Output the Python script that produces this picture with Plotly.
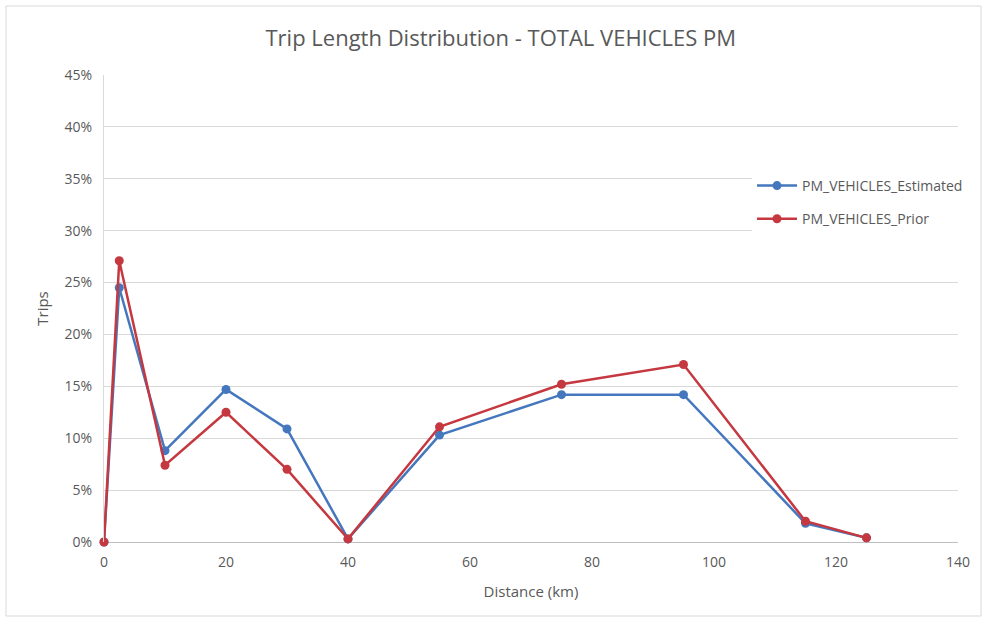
import plotly.graph_objects as go

# Trip length distribution, PM peak, total vehicles
distance_km = [0, 2.5, 10, 20, 30, 40, 55, 75, 95, 115, 125]
estimated = [0.000, 0.245, 0.088, 0.147, 0.109, 0.003, 0.103, 0.142, 0.142, 0.018, 0.004]
prior = [0.000, 0.271, 0.074, 0.125, 0.070, 0.003, 0.111, 0.152, 0.171, 0.020, 0.004]

x_ticks = [0, 20, 40, 60, 80, 100, 120, 140]
y_ticks = [0, 0.05, 0.10, 0.15, 0.20, 0.25, 0.30, 0.35, 0.40, 0.45]

BLUE = "#4477BD"
RED = "#C5383F"
TEXT = "#595959"
FONT = "Open Sans"

fig = go.Figure()
fig.add_trace(go.Scatter(
    x=distance_km, y=estimated, name="PM_VEHICLES_Estimated",
    legendgroup="est", mode="lines+markers", cliponaxis=False,
    line=dict(color=BLUE, width=2.5),
    marker=dict(color=BLUE, size=9),
))
fig.add_trace(go.Scatter(
    x=distance_km, y=prior, name="PM_VEHICLES_Prior",
    legendgroup="prior", mode="lines+markers", cliponaxis=False,
    line=dict(color=RED, width=2.5),
    marker=dict(color=RED, size=9),
))

W, H = 982, 621
ML, MR, MT, MB = 104, 24, 75, 79
pw, ph = W - ML - MR, H - MT - MB

def px_x(v):
    return (v - ML) / pw

def px_y(v):
    return (H - MB - v) / ph

fig.update_layout(
    width=W, height=H,
    margin=dict(l=ML, r=MR, t=MT, b=MB),
    paper_bgcolor="white", plot_bgcolor="white",
    font=dict(family=FONT, color=TEXT, size=14),
    title=dict(
        text="Trip Length Distribution - TOTAL VEHICLES PM",
        x=0.51, xanchor="center", y=1 - 38 / H, yanchor="middle",
        font=dict(size=22, color=TEXT, family=FONT),
    ),
    showlegend=True,
    legend=dict(
        x=px_x(752), y=px_y(170), xanchor="left", yanchor="top",
        bgcolor="white", font=dict(size=14, color=TEXT, family=FONT),
        itemwidth=40, tracegroupgap=12,
    ),
    xaxis=dict(
        range=[0, 140], tickvals=x_ticks, ticktext=[str(t) for t in x_ticks],
        showgrid=False, zeroline=False, showline=False,
        ticks="", ticklabelstandoff=10, tickfont=dict(size=14, color=TEXT),
        title=dict(text="Distance (km)", font=dict(size=15, color=TEXT), standoff=16),
    ),
    yaxis=dict(
        range=[0, 0.45], tickvals=y_ticks, tickformat=".0%",
        showgrid=True, gridcolor="#D9D9D9", gridwidth=1,
        zeroline=True, zerolinecolor="#BFBFBF", zerolinewidth=1,
        showline=True, linecolor="#D9D9D9", linewidth=1,
        ticks="", ticklabelstandoff=8, tickfont=dict(size=14, color=TEXT),
        title=dict(text="Trips", font=dict(size=15, color=TEXT), standoff=12),
    ),
    shapes=[dict(
        type="rect", xref="paper", yref="paper",
        x0=px_x(6), x1=px_x(W - 1), y0=px_y(H - 5), y1=px_y(6),
        line=dict(color="#D9D9D9", width=1), fillcolor="rgba(0,0,0,0)",
        layer="below",
    )],
)

fig.write_html("out.html")
